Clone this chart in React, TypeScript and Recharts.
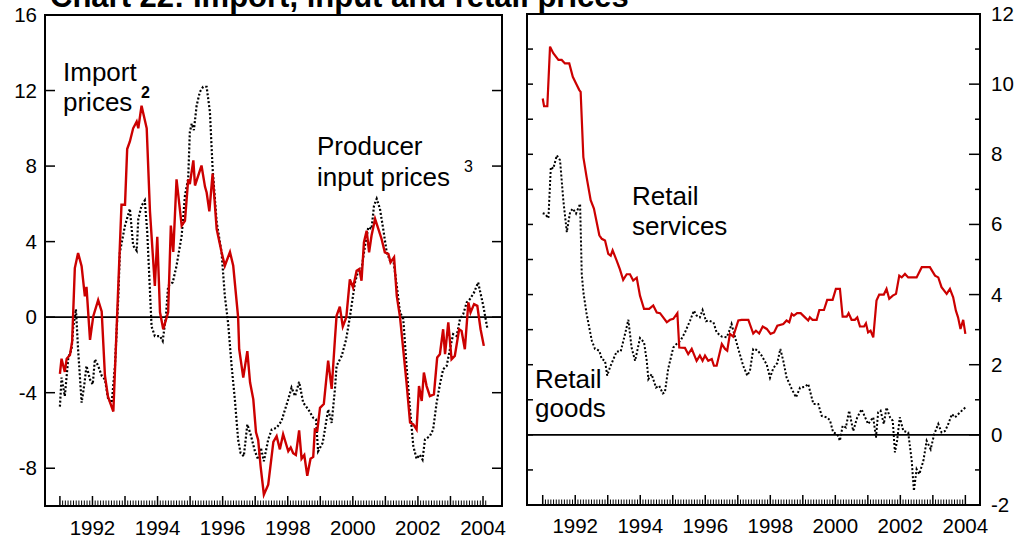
import React from 'react';
import { LineChart, Line, XAxis, YAxis, ReferenceLine, ReferenceArea } from 'recharts';

// x values are months since January 1991
const importPrices: [number, number][] = [
  [0, -3.0], [0.6, -2.2], [1.8, -2.9], [2.5, -2.2], [3.7, -2.0], [4.5, -1.3], [5.5, 2.6], [6.7, 3.4],
  [8, 2.7], [9.2, 1.1], [9.8, 1.6], [11.1, -1.2], [12.3, 0.05], [14.1, 0.9], [15.4, 0.3], [16.6, -3.1],
  [17.7, -4.2], [19.7, -5.0], [22.7, 5.95], [24, 5.95], [24.8, 8.9], [25.8, 9.3], [27, 10.0], [28.3, 10.35],
  [28.9, 10.0], [30.1, 11.2], [32, 10.0], [33.2, 5.6], [35, 1.65], [35.9, 4.25], [36.9, 0.26], [38.1, -0.64],
  [39.9, 0.26], [40.9, 4.85], [41.8, 3.45], [43, 7.3], [44.9, 4.85], [46.1, 5.1], [47.3, 7.3], [47.9, 7.05],
  [49.2, 8.3], [49.8, 6.97], [51, 7.5], [52.2, 8.03], [53.5, 6.9], [54.1, 6.6], [55.1, 5.6], [56.3, 7.6],
  [57.8, 4.67], [59.6, 3.45], [60.8, 2.72], [62.7, 3.45], [63.9, 2.72], [65.7, 0], [66.1, -1.7], [67.6, -3.2],
  [69.1, -1.8], [70.1, -3.45], [71.3, -4.35], [72.3, -6.1], [73.1, -6.5], [74, -7.9], [75.2, -9.4], [76.8, -8.87],
  [78.7, -6.6], [79.9, -6.3], [81.1, -7.0], [82.3, -6.2], [84.2, -7.1], [85.1, -6.9], [86, -7.2], [87, -7.3],
  [88.2, -6.0], [89.1, -7.5], [90.1, -7.3], [91.2, -8.4], [92.4, -7.5], [93.4, -7.4], [94, -5.95], [94.9, -6.0],
  [95.9, -4.8], [97.3, -4.6], [98.9, -2.3], [100.2, -3.8], [101.4, -1.17], [102, 0.07], [103.2, 0.55], [104.3, -0.5],
  [105.6, 0], [106.9, 2.0], [108.1, 1.57], [109.4, 2.46], [110.4, 2.55], [111.2, 1.93], [112.1, 3.97], [113.1, 4.58],
  [114, 3.43], [114.9, 4.32], [116.2, 5.2], [117.4, 4.67], [118.6, 4.14], [119.8, 3.43], [121.1, 3.35], [121.9, 2.9],
  [123.2, 3.17], [124.2, 1.13], [125.4, 0], [127.8, -3.47], [129.1, -5.58], [130.3, -5.68], [131.5, -5.95], [132.4, -3.65],
  [133.4, -4.44], [134.2, -2.93], [135.2, -3.65], [136.4, -4.18], [137.9, -4.09], [139.1, -2.14], [140.1, -1.96], [141.3, -0.64],
  [142, -1.96], [143.2, -0.28], [144.4, -2.23], [145.6, -2.05], [147.2, -0.64], [148.1, -0.73], [149.3, -1.7], [150.6, 0.78],
  [151.4, 0.25], [152.7, 0.69], [153.9, 0.6], [155.1, -0.64], [156.3, -1.52],
];

const producerInputPrices: [number, number][] = [
  [0, -4.74], [0.6, -3.2], [1.8, -4.18], [2.5, -3.1], [3.1, -2.14], [4.3, -1.7], [4.9, -0.55], [5.9, 0.42],
  [6.7, -1.7], [8, -4.53], [9, -3.56], [9.8, -2.58], [11.1, -3.3], [12.1, -3.56], [12.9, -2.23], [14.1, -2.58],
  [15.4, -3.1], [16.6, -3.3], [17.8, -4.35], [19.1, -4.53], [20.3, -2.58], [21.5, 0.96], [22.1, 3.43], [24, 4.85],
  [25.8, 5.74], [27, 3.79], [28.3, 3.52], [28.9, 5.2], [30.1, 5.9], [31.3, 6.18], [32.2, 4.5], [33.8, -0.5],
  [35, -1.0], [36.9, -1.0], [37.9, -1.26], [39.1, 0.07], [39.9, 1.66], [41.6, 1.84], [43, 2.72], [44.9, 4.32],
  [46.1, 6.44], [47.3, 7.33], [47.9, 9.8], [48.6, 10.25], [49.4, 9.9], [50.4, 11.2], [51.6, 11.93], [52.8, 12.2],
  [54.1, 12.2], [55.3, 10.87], [56.3, 7.86], [57.8, 5.03], [59.6, 3.43], [60.8, 1.13], [61.7, 0.07], [62.1, -0.46],
  [63.3, -2.58], [64.5, -4.35], [65.7, -6.48], [66.6, -7.19], [67.8, -7.37], [69.1, -5.68], [70.3, -6.2], [71.9, -7.1],
  [73.1, -7.54], [74.1, -6.92], [75.2, -7.63], [76.8, -6.48], [78.1, -5.95], [79.9, -5.86], [81.7, -5.5], [83, -4.89],
  [84.2, -4.35], [85.4, -3.73], [86.7, -4.18], [88.2, -3.43], [89.7, -4.53], [91.6, -4.89], [93.4, -5.33], [94.4, -5.42],
  [95.2, -7.1], [96.9, -6.65], [98.1, -5.6], [98.9, -4.89], [100.2, -5.6], [101.4, -3.82], [102, -2.58], [103.9, -2.05],
  [105.5, -1.2], [106.9, 0.0], [108.8, 1.84], [110, 2.46], [111.2, 2.55], [112.5, 3.79], [113.7, 4.76], [114.9, 4.67],
  [115.8, 5.9], [116.8, 6.27], [118, 5.74], [119.2, 4.67], [120.5, 3.43], [121.7, 2.99], [122.9, 3.08], [124.2, 1.66],
  [125.4, 0.25], [126.6, -0.1], [127.8, -2.58], [129.1, -4.89], [130.3, -6.83], [131.5, -7.5], [132.7, -7.28], [133.7, -7.54],
  [134.6, -6.48], [136.4, -6.3], [137.6, -5.95], [138.9, -4.53], [140.1, -3.56], [141.3, -2.76], [142.6, -2.58], [143.8, -1.7],
  [145, -0.9], [146.3, -1.0], [147.5, -0.1], [148.7, 0.16], [150, 0.78], [151.2, 0.96], [152.7, 1.31], [154.2, 1.84],
  [156.1, 0.6], [157.6, -0.6],
];

const retailServices: [number, number][] = [
  [0, 9.59], [0.5, 9.37], [1.7, 9.37], [2.7, 11.07], [3.9, 10.88], [5.8, 10.69], [7, 10.69], [8.2, 10.59],
  [9.8, 10.59], [11.1, 10.21], [12.3, 10.02], [13.5, 9.83], [14, 9.78], [15, 7.92], [16.2, 7.35], [17.7, 6.69],
  [18.9, 6.45], [20.9, 5.69], [21.8, 5.59], [23, 5.54], [24.2, 5.16], [25.1, 5.11], [25.8, 5.26], [27.3, 4.97],
  [28.5, 4.72], [29.7, 4.42], [31, 4.58], [32.2, 4.58], [33.4, 4.4], [34.7, 4.48], [35.9, 3.97], [37.4, 3.59],
  [39.3, 3.59], [40.8, 3.69], [42.1, 3.49], [43.3, 3.47], [45.8, 3.21], [47, 3.28], [48.2, 3.31], [49.7, 3.47],
  [50.4, 2.49], [52.5, 2.48], [53.7, 2.3], [55, 2.45], [56.8, 2.11], [58, 2.26], [59, 2.11], [59.9, 2.26],
  [61.1, 2.11], [62.4, 2.16], [63.2, 1.97], [64.2, 1.97], [66.1, 2.59], [67.3, 2.45], [68.1, 2.4], [69.1, 2.88],
  [70.3, 2.8], [72.2, 3.26], [73.4, 3.28], [75.9, 3.28], [77.7, 2.89], [78.7, 2.97], [79.9, 2.89], [81.2, 3.09],
  [82.7, 3.02], [84.1, 2.88], [85.4, 2.92], [86.6, 3.11], [88.8, 3.16], [90, 3.26], [91, 3.21], [91.9, 3.45],
  [92.7, 3.4], [93.9, 3.47], [95.2, 3.47], [96.8, 3.35], [98, 3.26], [98.6, 3.35], [99.6, 3.28], [101.1, 3.28],
  [102.1, 3.56], [103.8, 3.56], [105, 3.85], [107, 3.85], [108.2, 4.16], [109.7, 4.16], [110.7, 3.37], [112.2, 3.37],
  [112.9, 3.47], [114, 3.28], [115.2, 3.28], [116.1, 3.35], [117.1, 3.09], [118.6, 3.09], [119.3, 3.18], [120.1, 2.92],
  [121, 2.97], [122, 2.78], [123.2, 3.83], [124.2, 4.0], [125.9, 4.0], [126.9, 4.16], [127.9, 3.88], [129.2, 3.97],
  [130.4, 4.02], [131.6, 4.54], [132.5, 4.49], [133.7, 4.59], [134.9, 4.49], [138, 4.49], [139.9, 4.78], [142.9, 4.78],
  [144.8, 4.54], [146, 4.49], [147.2, 4.21], [149.1, 4.02], [150.3, 4.16], [151.5, 3.92], [152.5, 3.54], [153.3, 3.35],
  [154.2, 3.02], [155.2, 3.28], [156, 2.88],
];

const retailGoods: [number, number][] = [
  [0, 6.32], [0.8, 6.3], [2.1, 6.18], [3, 7.64], [3.9, 7.59], [5.2, 7.97], [6.4, 7.83], [7.6, 6.69],
  [8.9, 5.78], [10.1, 6.35], [11.1, 6.45], [12.3, 6.31], [13.8, 6.59], [14.4, 4.6], [15, 4.07], [16.2, 3.45],
  [18.1, 2.69], [19.3, 2.45], [20.9, 2.4], [21.8, 2.16], [23, 2.11], [23.8, 1.69], [24.8, 1.92], [26.1, 2.16],
  [27.3, 2.38], [28.8, 2.38], [30.4, 2.88], [31.6, 3.28], [32.8, 2.49], [34.1, 2.11], [35.9, 2.76], [37.4, 2.64],
  [38.4, 2.11], [39, 1.59], [40.2, 1.73], [41.8, 1.35], [43, 1.4], [44.3, 1.18], [45.1, 1.21], [46.3, 1.88],
  [48.2, 2.49], [49.4, 2.59], [50.9, 2.69], [52.5, 2.92], [54.4, 3.26], [55.8, 3.54], [56.8, 3.4], [58, 3.35],
  [59, 3.56], [60.3, 3.24], [61.1, 3.26], [63, 3.21], [64.2, 2.92], [66.1, 2.8], [67.9, 2.78], [68.9, 2.97],
  [69.7, 3.16], [71, 2.78], [72.2, 2.45], [74, 1.97], [75.5, 1.69], [76.5, 1.83], [77.7, 2.45], [79.2, 2.42],
  [80.8, 2.26], [82.7, 2.0], [83.9, 1.63], [85.1, 1.9], [86.6, 2.05], [87.7, 2.45], [88.8, 2.11], [90, 1.64],
  [91.9, 1.31], [93.5, 1.07], [95, 1.35], [96.8, 1.37], [98, 1.45], [99.9, 0.88], [101.7, 0.88], [103, 0.54],
  [104.8, 0.5], [106, 0.42], [107.2, 0.07], [108.7, 0.02], [109.7, -0.17], [110.7, 0.26], [111.9, 0.21], [113.1, 0.69],
  [114.6, 0.11], [116.1, 0.5], [117.7, 0.73], [119, 0.5], [120.1, 0.31], [122, 0.5], [123, -0.08], [123.8, 0.64],
  [124.7, 0.69], [125.9, 0.31], [126.9, 0.78], [128.2, 0.5], [129.2, 0.4], [130, -0.5], [130.8, -0.17], [131.8, 0.5],
  [133.1, 0.11], [134.9, 0.07], [136.2, -0.74], [137, -1.6], [138, -0.98], [139, -1.12], [140.5, -0.74], [141.7, -0.17],
  [143.2, -0.41], [144.5, 0.02], [146, 0.31], [147.2, 0.07], [148.5, 0.11], [149.7, 0.31], [151, 0.59], [152.2, 0.5],
  [154, 0.64], [156, 0.78],
];

const yearLabels = [1992, 1994, 1996, 1998, 2000, 2002, 2004];
const leftYTicks = [-8, -4, 0, 4, 8, 12, 16];
const rightYTicks = [-2, -1, 0, 1, 2, 3, 4, 5, 6, 7, 8, 9, 10, 11, 12];
const rightYLabels = [-2, 0, 2, 4, 6, 8, 10, 12];

const FONT = '"Liberation Sans", Arial, Helvetica, sans-serif';
const RED = '#CC0000';

const LEFT_X: [number, number] = [-5.5, 163];
const LEFT_Y: [number, number] = [-10, 16];
const RIGHT_X: [number, number] = [-5.8, 161.4];
const RIGHT_Y: [number, number] = [-2, 12];

const rows = (pairs: [number, number][]) => pairs.map(([m, v]) => ({ m, v }));
const monthTicks = (last: number) => Array.from({ length: last + 1 }, (_, i) => i);

const makeXTick = (labelOffset: number) => (p: any) => {
  const { x, y, payload } = p;
  const m = payload.value as number;
  const major = m % 12 === 0;
  const year = 1991 + m / 12;
  const showLabel = major && yearLabels.includes(year);
  return (
    <g>
      <line x1={x} x2={x} y1={y} y2={y - (major ? 10 : 5.5)} stroke="#000" strokeWidth={major ? 1.5 : 1} />
      {showLabel && (
        <text x={x} y={y + labelOffset} textAnchor="middle" fontSize={20.5} fontFamily={FONT} fill="#000">
          {year}
        </text>
      )}
    </g>
  );
};

const makeYTick = (side: 'left' | 'right', lenFn: (v: number) => number, labels: number[] | null, gap: number) => (p: any) => {
  const { x, y, payload } = p;
  const v = payload.value as number;
  const len = lenFn(v);
  const dir = side === 'left' ? 1 : -1;
  const showLabel = labels !== null && labels.includes(v);
  return (
    <g>
      <line x1={x} x2={x + dir * len} y1={y} y2={y} stroke="#000" strokeWidth={1.5} />
      {showLabel && (
        <text
          x={side === 'left' ? x - gap : x + gap}
          y={y + 7}
          textAnchor={side === 'left' ? 'end' : 'start'}
          fontSize={20.5}
          fontFamily={FONT}
          fill="#000"
        >
          {v}
        </text>
      )}
    </g>
  );
};

function LeftPanel() {
  return (
    <LineChart width={520} height={541} margin={{ top: 14, right: 17, bottom: 34, left: 0 }}>
      <XAxis
        xAxisId="b"
        type="number"
        dataKey="m"
        domain={LEFT_X}
        ticks={monthTicks(157)}
        interval={0}
        tickSize={0}
        tickMargin={0}
        height={1}
        axisLine={false}
        tickLine={false}
        tick={makeXTick(29)}
        allowDataOverflow
      />
      <XAxis xAxisId="t" orientation="top" type="number" domain={LEFT_X} height={1} axisLine={false} tick={false} tickLine={false} allowDataOverflow />
      <YAxis
        yAxisId="l"
        type="number"
        domain={LEFT_Y}
        ticks={leftYTicks}
        interval={0}
        width={45}
        tickSize={0}
        tickMargin={0}
        axisLine={false}
        tickLine={false}
        tick={makeYTick('left', () => 10, leftYTicks, 8)}
        allowDataOverflow
      />
      <YAxis
        yAxisId="r"
        orientation="right"
        type="number"
        domain={LEFT_Y}
        ticks={leftYTicks}
        interval={0}
        width={1}
        tickSize={0}
        tickMargin={0}
        axisLine={false}
        tickLine={false}
        tick={makeYTick('right', () => 10, null, 0)}
        allowDataOverflow
      />
      <ReferenceArea
        xAxisId="b"
        yAxisId="l"
        x1={LEFT_X[0]}
        x2={LEFT_X[1]}
        y1={LEFT_Y[0]}
        y2={LEFT_Y[1]}
        fill="none"
        fillOpacity={0}
        stroke="#000"
        strokeWidth={2}
        strokeOpacity={1}
        ifOverflow="visible"
      />
      <ReferenceLine xAxisId="b" yAxisId="l" y={0} stroke="#000" strokeWidth={1.8} />
      <Line
        xAxisId="b"
        yAxisId="l"
        data={rows(producerInputPrices)}
        dataKey="v"
        type="linear"
        stroke="#000"
        strokeWidth={2.2}
        strokeDasharray="2 2"
        dot={false}
        isAnimationActive={false}
      />
      <Line
        xAxisId="b"
        yAxisId="l"
        data={rows(importPrices)}
        dataKey="v"
        type="linear"
        stroke={RED}
        strokeWidth={2.4}
        dot={false}
        isAnimationActive={false}
      />
    </LineChart>
  );
}

function RightPanel() {
  return (
    <LineChart width={523} height={541} margin={{ top: 13, right: 0, bottom: 35, left: 0 }}>
      <XAxis
        xAxisId="b"
        type="number"
        dataKey="m"
        domain={RIGHT_X}
        ticks={monthTicks(156)}
        interval={0}
        tickSize={0}
        tickMargin={0}
        height={1}
        axisLine={false}
        tickLine={false}
        tick={makeXTick(28)}
        allowDataOverflow
      />
      <XAxis xAxisId="t" orientation="top" type="number" domain={RIGHT_X} height={1} axisLine={false} tick={false} tickLine={false} allowDataOverflow />
      <YAxis
        yAxisId="l"
        type="number"
        domain={RIGHT_Y}
        ticks={rightYTicks}
        interval={0}
        width={17}
        tickSize={0}
        tickMargin={0}
        axisLine={false}
        tickLine={false}
        tick={makeYTick('left', () => 6, null, 0)}
        allowDataOverflow
      />
      <YAxis
        yAxisId="r"
        orientation="right"
        type="number"
        domain={RIGHT_Y}
        ticks={rightYTicks}
        interval={0}
        width={53}
        tickSize={0}
        tickMargin={0}
        axisLine={false}
        tickLine={false}
        tick={makeYTick('right', (v) => (v % 2 === 0 ? 11 : 5), rightYLabels, 11)}
        allowDataOverflow
      />
      <ReferenceArea
        xAxisId="b"
        yAxisId="r"
        x1={RIGHT_X[0]}
        x2={RIGHT_X[1]}
        y1={RIGHT_Y[0]}
        y2={RIGHT_Y[1]}
        fill="none"
        fillOpacity={0}
        stroke="#000"
        strokeWidth={2}
        strokeOpacity={1}
        ifOverflow="visible"
      />
      <ReferenceLine xAxisId="b" yAxisId="r" y={0} stroke="#000" strokeWidth={1.8} />
      <Line
        xAxisId="b"
        yAxisId="r"
        data={rows(retailGoods)}
        dataKey="v"
        type="linear"
        stroke="#000"
        strokeWidth={2}
        strokeDasharray="2 2"
        dot={false}
        isAnimationActive={false}
      />
      <Line
        xAxisId="b"
        yAxisId="r"
        data={rows(retailServices)}
        dataKey="v"
        type="linear"
        stroke={RED}
        strokeWidth={2.2}
        dot={false}
        isAnimationActive={false}
      />
    </LineChart>
  );
}

export default function App() {
  const t = { fontFamily: FONT, fill: '#000' } as const;
  return (
    <div style={{ position: 'absolute', left: 0, top: 0, width: 1033, height: 541, background: '#fff', overflow: 'hidden' }}>
      <div style={{ position: 'absolute', left: 0, top: 0 }}>
        <LeftPanel />
      </div>
      <div style={{ position: 'absolute', left: 510, top: 0 }}>
        <RightPanel />
      </div>
      <svg width={1033} height={541} style={{ position: 'absolute', left: 0, top: 0, pointerEvents: 'none' }}>
        <text x={50} y={7} fontSize={31} fontWeight="bold" {...t}>Chart 22: Import, input and retail prices</text>
        <text x={63} y={81} fontSize={26} {...t}>Import</text>
        <text x={63} y={111} fontSize={26} {...t}>prices</text>
        <text x={141} y={98} fontSize={16} fontWeight="bold" {...t}>2</text>
        <text x={317} y={155} fontSize={26} {...t}>Producer</text>
        <text x={317} y={186} fontSize={26} {...t}>input prices</text>
        <text x={464} y={172} fontSize={16} {...t}>3</text>
        <text x={632} y={205} fontSize={26} {...t}>Retail</text>
        <text x={632} y={235} fontSize={26} {...t}>services</text>
        <text x={535} y={388} fontSize={26} {...t}>Retail</text>
        <text x={535} y={417} fontSize={26} {...t}>goods</text>
      </svg>
    </div>
  );
}
